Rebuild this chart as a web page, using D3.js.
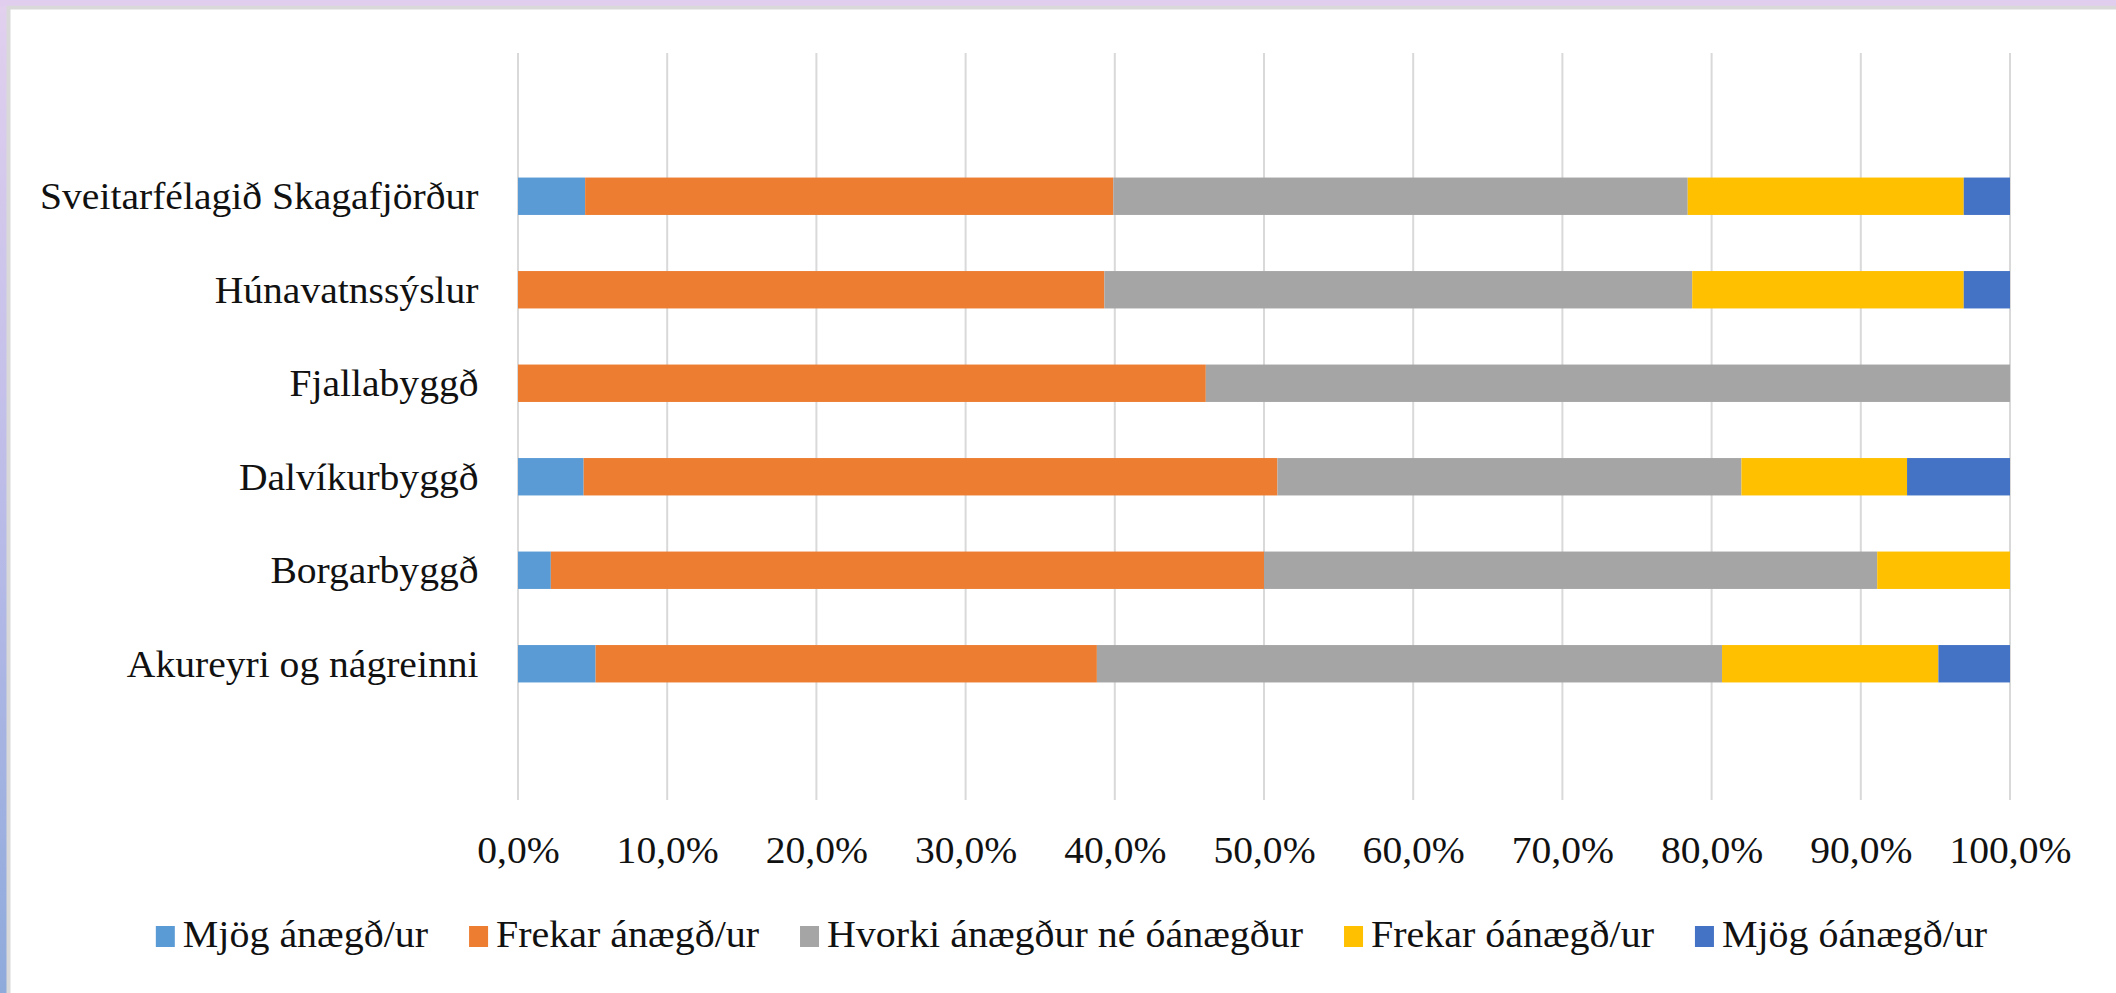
<!DOCTYPE html>
<html>
<head>
<meta charset="utf-8">
<script src="https://cdn.jsdelivr.net/npm/d3@7"></script>
<style>
  html, body { margin: 0; padding: 0; background: #fff; }
  svg { display: block; }
</style>
</head>
<body>
<svg id="chart" width="2116" height="993"></svg>
<script>
// ---- data ----
const categories = [
  "Sveitarfélagið Skagafjörður",
  "Húnavatnssýslur",
  "Fjallabyggð",
  "Dalvíkurbyggð",
  "Borgarbyggð",
  "Akureyri og nágreinni"
];
const seriesNames = [
  "Mjög ánægð/ur",
  "Frekar ánægð/ur",
  "Hvorki ánægður né óánægður",
  "Frekar óánægð/ur",
  "Mjög óánægð/ur"
];
const mjogAnaegd    = [4.5, 0.0, 0.0, 4.4, 2.2, 5.2];
const frekarAnaegd  = [35.4, 39.3, 46.1, 46.5, 47.8, 33.6];
const hvorki        = [38.5, 39.4, 53.9, 31.1, 41.1, 41.9];
const frekarOanaegd = [18.5, 18.2, 0.0, 11.1, 8.9, 14.5];
const mjogOanaegd   = [3.1, 3.1, 0.0, 6.9, 0.0, 4.8];
const tickValues = [0, 10, 20, 30, 40, 50, 60, 70, 80, 90, 100];
const colors = ["#5B9BD5", "#ED7D31", "#A5A5A5", "#FFC000", "#4472C4"];

const FONT = "'Liberation Serif', 'Times New Roman', Times, serif";

// ---- build table ----
const seriesValues = [mjogAnaegd, frekarAnaegd, hvorki, frekarOanaegd, mjogOanaegd];
const table = categories.map((c, i) => {
  const row = { cat: c };
  seriesNames.forEach((s, j) => { row[s] = seriesValues[j][i]; });
  return row;
});
const stacked = d3.stack().keys(seriesNames)(table);

const svg = d3.select("#chart");
const W = 2116, H = 993;

// ---- frame / background ----
const defs = svg.append("defs");
const grad = defs.append("linearGradient").attr("id", "leftGrad")
  .attr("x1", 0).attr("y1", 0).attr("x2", 0).attr("y2", 1);
grad.append("stop").attr("offset", "0%").attr("stop-color", "#e2d0ee");
grad.append("stop").attr("offset", "50%").attr("stop-color", "#bcbce8");
grad.append("stop").attr("offset", "100%").attr("stop-color", "#8eaadb");
svg.append("rect").attr("x", 0).attr("y", 0).attr("width", W).attr("height", H).attr("fill", "url(#leftGrad)");
svg.append("rect").attr("x", 0).attr("y", 0).attr("width", W).attr("height", 6).attr("fill", "#e1cdee");
svg.append("rect").attr("x", 6.5).attr("y", 5.7).attr("width", W).attr("height", H).attr("fill", "#d9d9d9");
svg.append("rect").attr("x", 10.5).attr("y", 9.5).attr("width", W).attr("height", H).attr("fill", "#ffffff");

// ---- scales ----
const x = d3.scaleLinear().domain([0, 100]).range([518, 2010]);
const y = d3.scaleBand().domain(categories).range([149.5, 710.5]).paddingInner(0.6).paddingOuter(0.3);
const gridTop = 53, gridBottom = 800;

// ---- gridlines ----
svg.append("g").selectAll("line").data(tickValues).join("line")
  .attr("x1", d => x(d)).attr("x2", d => x(d))
  .attr("y1", gridTop).attr("y2", gridBottom)
  .attr("stroke", "#d9d9d9").attr("stroke-width", 2);

// ---- bars ----
svg.append("g").selectAll("g").data(stacked).join("g")
  .attr("fill", (d, i) => colors[i])
  .selectAll("rect").data(d => d.filter(p => p[1] - p[0] > 0)).join("rect")
  .attr("x", d => x(d[0]))
  .attr("width", d => x(d[1]) - x(d[0]))
  .attr("y", d => y(d.data.cat))
  .attr("height", y.bandwidth());

// ---- category labels ----
const sx = 1.07;
svg.append("g").selectAll("g").data(categories).join("g")
  .attr("transform", d => `translate(478.5,${y(d) + y.bandwidth() / 2 + 13}) scale(${sx},1)`)
  .append("text")
  .attr("text-anchor", "end")
  .attr("font-family", FONT)
  .attr("font-size", 37)
  .attr("fill", "#111")
  .text(d => d);

// ---- x axis tick labels ----
const fmt = v => d3.format(".1f")(v).replace(".", ",") + "%";
const xAxis = svg.append("g").attr("transform", `translate(0,${gridBottom})`)
  .call(d3.axisBottom(x).tickValues(tickValues).tickFormat(fmt).tickSize(0));
xAxis.attr("font-family", FONT).attr("font-size", 37);
xAxis.select(".domain").remove();
xAxis.selectAll(".tick line").remove();
xAxis.selectAll(".tick").each(function () {
  const g = d3.select(this);
  g.attr("transform", g.attr("transform") + ` scale(${sx},1)`);
});
xAxis.selectAll("text")
  .attr("font-family", FONT)
  .attr("fill", "#111")
  .attr("y", 63).attr("dy", 0);

// ---- legend ----
const lsx = 1.08, swW = 19, swH = 21, swGap = 8, itemGap = 41;
const legend = svg.append("g");
const items = legend.selectAll("g.item").data(seriesNames).join("g").attr("class", "item");
items.append("rect").attr("x", 0).attr("y", -21).attr("width", swW).attr("height", swH)
  .attr("fill", (d, i) => colors[i]);
items.append("g")
  .attr("transform", `translate(${swW + swGap},0) scale(${lsx},1)`)
  .append("text")
  .attr("font-family", FONT)
  .attr("font-size", 37)
  .attr("fill", "#111")
  .text(d => d);
let widths = [];
items.each(function () {
  const t = d3.select(this).select("text").node();
  widths.push(swW + swGap + t.getComputedTextLength() * lsx);
});
const total = d3.sum(widths) + itemGap * (widths.length - 1);
let cx = 1071.5 - total / 2;
items.attr("transform", (d, i) => {
  const tx = cx;
  cx += widths[i] + itemGap;
  return `translate(${tx},947)`;
});
</script>
</body>
</html>
